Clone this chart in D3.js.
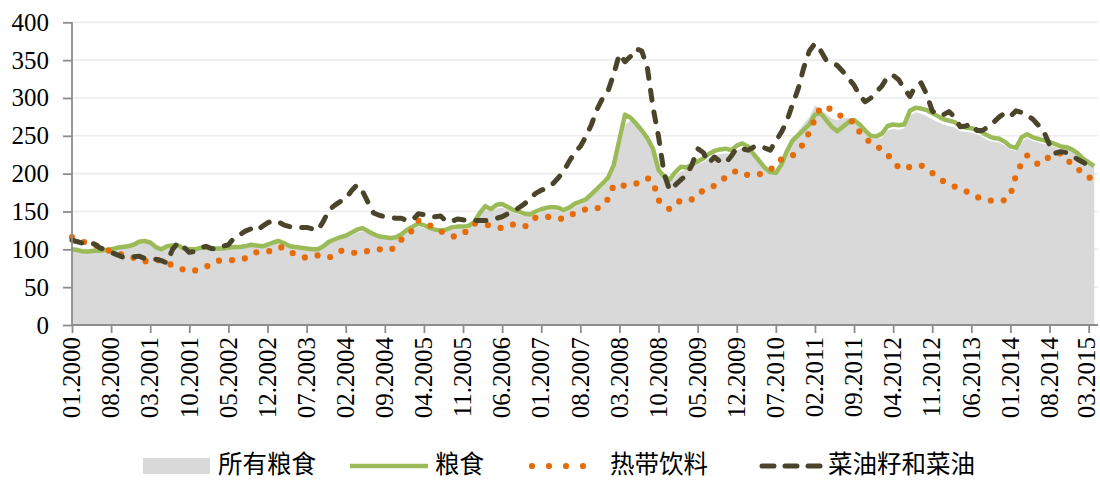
<!DOCTYPE html>
<html>
<head>
<meta charset="utf-8">
<script src="https://cdn.jsdelivr.net/npm/d3@7"></script>
<style>
  body { margin: 0; background: #fff; }
  svg { display: block; }
</style>
</head>
<body>
<svg id="chart" width="1100" height="480"></svg>
<script>
// ---- DATA ----
const startYear = 2000;
const nPoints = 184; // 01.2000 .. 04.2015
const categories = [];
for (let i = 0; i < nPoints; i++) {
  const yr = startYear + Math.floor(i / 12);
  const mo = (i % 12) + 1;
  categories.push((mo < 10 ? "0" : "") + mo + "." + yr);
}

const tickLabels = ["01.2000","08.2000","03.2001","10.2001","05.2002","12.2002","07.2003","02.2004",
  "09.2004","04.2005","11.2005","06.2006","01.2007","08.2007","03.2008","10.2008","05.2009","12.2009",
  "07.2010","02.2011","09.2011","04.2012","11.2012","06.2013","01.2014","08.2014","03.2015"];

const yTicks = [0, 50, 100, 150, 200, 250, 300, 350, 400];

const seriesNames = ["所有粮食", "粮食", "热带饮料", "菜油籽和菜油"];

// 所有粮食 (all food) - grey area
const allFood = [
  98,97,96,96,96,97,97,98,100,101,102,104,107,108,107,102,99,101,102,102,99,98,98,99,100,99,99,99,100,101,101,
  102,104,103,102,104,106,108,106,103,102,101,100,99,99,102,107,110,113,115,118,122,124,121,118,115,114,113,114,117,122,
  126,130,128,125,123,122,123,126,127,127,128,133,144,152,149,154,155,152,148,146,144,143,146,149,151,152,151,149,152,156,
  159,163,170,176,182,190,208,233,265,271,263,255,245,230,205,192,188,196,203,205,209,212,215,220,224,226,227,226,231,234,
  231,223,215,207,201,201,212,230,246,256,266,275,290,285,279,273,271,273,274,272,265,255,247,245,248,257,259,258,260,277,
  281,279,276,272,268,265,263,261,256,255,254,252,248,244,242,241,237,232,230,242,247,243,241,239,238,235,232,232,229,224,
  218,213,208
];

// 粮食 (cereals) - green line
const cereals = [
  100,99,97,97,98,98,99,100,102,103,104,106,110,111,109,103,100,104,105,105,101,100,100,102,102,101,101,101,102,103,103,
  104,106,105,104,106,109,111,108,104,103,102,101,100,100,104,110,113,116,118,122,126,128,124,120,117,116,115,116,120,126,
  130,134,132,128,126,125,126,129,130,130,131,136,148,157,153,159,160,156,152,150,147,146,150,153,155,156,155,152,155,160,
  163,166,173,180,187,195,212,245,278,274,266,257,247,233,205,196,192,202,209,208,212,216,220,226,230,232,233,231,237,240,
  236,226,217,208,202,201,212,230,244,251,258,265,278,280,271,262,256,262,268,271,265,257,250,249,253,263,265,264,265,283,
  287,286,284,280,276,272,270,268,263,261,260,258,254,250,247,246,242,236,234,248,252,248,246,244,242,239,236,235,232,227,
  220,215,210
];

// 热带饮料 (tropical beverages) - orange dotted line
const beverages = [
  116,113,110,108,106,103,100,97,95,93,92,89,85,84,86,87,84,82,79,76,73,71,72,74,77,81,85,85,85,86,87,
  88,92,96,97,97,99,103,102,97,93,90,89,91,92,90,89,93,98,98,96,95,96,98,99,100,100,99,104,113,118,
  126,138,136,132,128,124,120,117,117,120,127,134,134,133,131,129,128,130,133,132,130,134,142,143,143,142,141,140,144,148,
  150,153,153,154,158,167,185,185,184,185,187,190,194,190,165,158,153,159,165,166,166,172,178,181,184,190,195,200,204,201,
  198,198,199,202,205,212,219,221,224,231,240,255,272,288,287,285,280,274,271,268,255,248,240,236,232,225,217,208,206,209,
  210,211,206,201,195,190,186,183,180,177,173,169,167,165,164,164,165,172,198,214,224,218,212,218,222,225,227,220,212,207,
  200,195,193
];

// 菜油籽和菜油 (rapeseed and rapeseed oil) - dark dashed line
const oilseeds = [
  112,110,108,109,107,102,99,96,93,90,89,90,91,88,87,87,85,82,100,109,103,96,97,102,104,101,100,104,106,115,119,
  124,127,124,130,135,138,136,132,130,129,129,129,127,125,137,152,158,163,167,177,185,177,162,148,145,143,142,141,141,138,
  139,147,146,143,143,144,137,137,140,139,138,138,138,138,139,141,143,147,150,155,160,167,174,178,181,186,194,203,216,228,
  236,249,265,285,300,310,332,358,348,355,365,362,340,288,249,200,178,185,192,198,212,233,228,214,222,216,214,223,234,233,
  231,235,237,234,231,243,255,270,292,312,340,362,372,363,350,347,343,335,326,317,303,295,300,308,316,328,330,324,312,302,
  316,320,305,283,277,278,282,275,262,263,266,257,257,262,268,275,280,276,283,281,277,272,264,255,238,227,229,228,224,219,
  215,211,209
];

// ---- LAYOUT ----
const svg = d3.select("#chart");
const x0 = 72, stepPx = 5.586, plotRight = 1098;
const x = d3.scalePoint().domain(categories).range([x0, x0 + (nPoints - 1) * stepPx]);
const y = d3.scaleLinear().domain([0, 400]).range([325, 22.3]);

const serif = "'Liberation Serif','Times New Roman',serif";
const cjk = "'Noto Sans CJK SC','Noto Sans CJK TC',sans-serif";

// gridlines
svg.append("g").selectAll("line").data(yTicks.filter(v => v > 0)).join("line")
  .attr("x1", x0).attr("x2", plotRight)
  .attr("y1", d => y(d)).attr("y2", d => y(d))
  .attr("stroke", "#ececec").attr("stroke-width", 1.6);

// area
const area = d3.area()
  .x((d, i) => x(categories[i]))
  .y0(y(0)).y1(d => y(d));
svg.append("path").datum(allFood).attr("d", area).attr("fill", "#d9d9d9");

const line = d3.line().x((d, i) => x(categories[i])).y(d => y(d));

svg.append("path").datum(cereals).attr("d", line)
  .attr("fill", "none").attr("stroke", "#9bbb59").attr("stroke-width", 4.5)
  .attr("stroke-linejoin", "round");

svg.append("path").datum(beverages).attr("d", line)
  .attr("fill", "none").attr("stroke", "#e46c0a").attr("stroke-width", 6.2)
  .attr("stroke-linecap", "round").attr("stroke-dasharray", "0 13");

svg.append("path").datum(oilseeds).attr("d", line)
  .attr("fill", "none").attr("stroke", "#4a452a").attr("stroke-width", 5)
  .attr("stroke-linecap", "round").attr("stroke-linejoin", "round")
  .attr("stroke-dasharray", "10 12");

// axes
const axisColor = "#8c8c8c";
const yAxis = svg.append("g").attr("transform", `translate(${x0},0)`)
  .call(d3.axisLeft(y).tickValues(yTicks).tickSize(9).tickPadding(14).tickSizeOuter(0));
yAxis.select(".domain").remove();
yAxis.append("line").attr("x1", 0).attr("x2", 0).attr("y1", y(400)).attr("y2", y(0))
  .attr("stroke", axisColor).attr("stroke-width", 1.8);
yAxis.selectAll(".tick line").attr("stroke", axisColor).attr("stroke-width", 1.8);
yAxis.selectAll("text").attr("font-family", serif).attr("font-size", 25).attr("fill", "#000");

const xAxis = svg.append("g").attr("transform", `translate(0,${y(0)})`)
  .call(d3.axisBottom(x).tickValues(tickLabels).tickSize(8).tickSizeOuter(0));
xAxis.select(".domain").remove();
xAxis.append("line").attr("x1", x0).attr("x2", plotRight).attr("y1", 0).attr("y2", 0)
  .attr("stroke", axisColor).attr("stroke-width", 1.8);
xAxis.selectAll(".tick line").attr("stroke", axisColor).attr("stroke-width", 1.8);
const lastTick = tickLabels[tickLabels.length - 1];
xAxis.selectAll("text")
  .attr("font-family", serif).attr("font-size", 25).attr("fill", "#000")
  .attr("transform", "rotate(-90)")
  .attr("text-anchor", "end")
  .attr("x", -12).attr("y", d => d === lastTick ? -3 : -1).attr("dy", "0.35em");

// legend
const lg = svg.append("g");
const ly = 465;
lg.append("rect").attr("x", 143).attr("y", ly - 7).attr("width", 67).attr("height", 16).attr("fill", "#d9d9d9");
lg.append("line").attr("x1", 350).attr("x2", 428).attr("y1", ly + 1).attr("y2", ly + 1)
  .attr("stroke", "#9bbb59").attr("stroke-width", 4.5);
lg.append("line").attr("x1", 532).attr("x2", 600).attr("y1", ly + 1).attr("y2", ly + 1)
  .attr("stroke", "#e46c0a").attr("stroke-width", 6.2).attr("stroke-linecap", "round")
  .attr("stroke-dasharray", "0 17");
lg.append("line").attr("x1", 762).attr("x2", 820).attr("y1", ly + 1).attr("y2", ly + 1)
  .attr("stroke", "#4a452a").attr("stroke-width", 5).attr("stroke-linecap", "round")
  .attr("stroke-dasharray", "12 11");
const labelX = [218, 435, 610, 828];
lg.selectAll("text.lbl").data(seriesNames).join("text")
  .attr("class", "lbl")
  .attr("x", (d, i) => labelX[i]).attr("y", ly).attr("dy", "0.34em")
  .attr("font-family", cjk).attr("font-size", 24.5).attr("fill", "#000")
  .text(d => d);
</script>
</body>
</html>
